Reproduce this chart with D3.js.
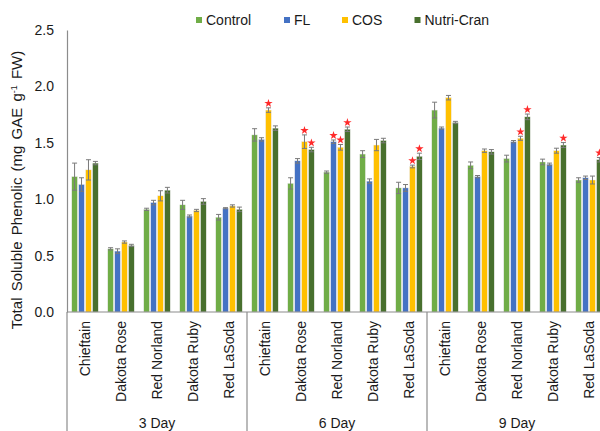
<!DOCTYPE html>
<html>
<head>
<meta charset="utf-8">
<script src="https://cdn.jsdelivr.net/npm/d3@7"></script>
<style>
  html, body { margin: 0; padding: 0; background: #fff; overflow: hidden; }
  svg { display: block; font-family: Arial, "Liberation Sans", sans-serif; }
</style>
</head>
<body>
<svg id="chart" width="600" height="431"></svg>
<script>
// Storage days and cultivars (two-level category axis)
const days = ["3 Day", "6 Day", "9 Day"];
const cultivars = ["Chieftain", "Dakota Rose", "Red Norland", "Dakota Ruby", "Red LaSoda"];
const seriesNames = ["Control", "FL", "COS", "Nutri-Cran"];

// Mean total soluble phenolic, ordered day by day, cultivar by cultivar
const controlValues = [1.20, 0.56, 0.91, 0.95, 0.84, 1.57, 1.14, 1.24, 1.40, 1.10, 1.79, 1.30, 1.36, 1.33, 1.17];
const flValues      = [1.13, 0.54, 0.97, 0.85, 0.92, 1.53, 1.34, 1.51, 1.16, 1.10, 1.63, 1.20, 1.51, 1.31, 1.19];
const cosValues     = [1.26, 0.62, 1.03, 0.90, 0.94, 1.79, 1.51, 1.46, 1.48, 1.29, 1.90, 1.43, 1.54, 1.43, 1.17];
const nutriValues   = [1.32, 0.59, 1.08, 0.98, 0.91, 1.63, 1.44, 1.62, 1.52, 1.38, 1.68, 1.42, 1.73, 1.48, 1.35];

// Standard errors
const controlErr = [0.12, 0.01, 0.01, 0.04, 0.025, 0.055, 0.05, 0.01, 0.03, 0.05, 0.07, 0.03, 0.03, 0.025, 0.02];
const flErr      = [0.06, 0.02, 0.02, 0.01, 0.005, 0.015, 0.02, 0.015, 0.02, 0.03, 0.01, 0.01, 0.01, 0.01, 0.015];
const cosErr     = [0.09, 0.01, 0.045, 0.01, 0.01, 0.02, 0.06, 0.025, 0.05, 0.012, 0.02, 0.015, 0.018, 0.022, 0.035];
const nutriErr   = [0.015, 0.01, 0.025, 0.025, 0.02, 0.02, 0.02, 0.02, 0.02, 0.028, 0.01, 0.02, 0.025, 0.022, 0.02];

// Positions (in the day/cultivar order) marked as significant vs. control
const controlSig = [];
const flSig      = [7];
const cosSig     = [5, 6, 7, 9, 12];
const nutriSig   = [6, 7, 9, 12, 13, 14];

const yTicks = [0, 0.5, 1.0, 1.5, 2.0, 2.5];
const colors = ["#70AD47", "#4472C4", "#FFC000", "#48702E"];

const seriesData = [
  { name: seriesNames[0], values: controlValues, err: controlErr, sig: controlSig },
  { name: seriesNames[1], values: flValues,      err: flErr,      sig: flSig },
  { name: seriesNames[2], values: cosValues,     err: cosErr,     sig: cosSig },
  { name: seriesNames[3], values: nutriValues,   err: nutriErr,   sig: nutriSig }
];

const keys = [];
days.forEach(d => cultivars.forEach(c => keys.push(d + "|" + c)));

const svg = d3.select("#chart");
const plotLeft = 67, plotBottom = 312, plotTop = 30;
const textColor = "#1a1a1a";
const axisColor = "#8c8c8c";

const y = d3.scaleLinear().domain([0, 2.5]).range([plotBottom, plotTop]);
const x0 = d3.scaleBand().domain(keys).range([plotLeft, plotLeft + 540])
  .paddingInner(0.267).paddingOuter(0.1335);
const x1 = d3.scaleBand().domain(seriesNames).range([0, x0.bandwidth()]).paddingInner(0.2);

// Y axis
const yAxis = d3.axisLeft(y).tickValues(yTicks).tickFormat(d3.format(".1f")).tickSize(0).tickPadding(13);
const gy = svg.append("g").attr("transform", `translate(${plotLeft},0)`).call(yAxis);
gy.select(".domain").attr("stroke", axisColor).attr("stroke-width", 1.2);
gy.selectAll("text").attr("font-size", 14).attr("fill", textColor).attr("font-family", "Arial, 'Liberation Sans', sans-serif");

// Y title
const yt = svg.append("text")
  .attr("transform", `translate(22,${(plotTop + plotBottom) / 2 + 19}) rotate(-90)`)
  .attr("text-anchor", "middle").attr("font-size", 15).attr("fill", textColor)
  .attr("word-spacing", 2);
yt.append("tspan").text("Total Soluble Phenolic (mg GAE g");
yt.append("tspan").attr("font-size", 9).attr("dy", -5).text("-1");
yt.append("tspan").attr("dy", 5).text(" FW)");

// Bars, error bars and significance stars, one layer per treatment
seriesData.forEach((s, si) => {
  const g = svg.append("g");
  const rows = keys.map((k, i) => ({ k, v: s.values[i], e: s.err[i], i }));
  g.selectAll("rect").data(rows).join("rect")
    .attr("x", d => x0(d.k) + x1(s.name))
    .attr("width", x1.bandwidth())
    .attr("y", d => y(d.v))
    .attr("height", d => y(0) - y(d.v))
    .attr("fill", colors[si])
    .attr("stroke", "#e6e6e6").attr("stroke-width", 0.4);

  const eb = g.append("g").attr("stroke", "#7a7a7a").attr("stroke-width", 1);
  rows.forEach(d => {
    const cx = x0(d.k) + x1(s.name) + x1.bandwidth() / 2;
    eb.append("line").attr("x1", cx).attr("x2", cx).attr("y1", y(d.v + d.e)).attr("y2", y(d.v - d.e));
    eb.append("line").attr("x1", cx - 2.5).attr("x2", cx + 2.5).attr("y1", y(d.v + d.e)).attr("y2", y(d.v + d.e));
    eb.append("line").attr("x1", cx - 2.5).attr("x2", cx + 2.5).attr("y1", y(d.v - d.e)).attr("y2", y(d.v - d.e));
  });

  g.selectAll("path.star").data(s.sig).join("path")
    .attr("class", "star")
    .attr("d", d3.symbol(d3.symbolStar, 22))
    .attr("transform", i => {
      const cx = x0(keys[i]) + x1(s.name) + x1.bandwidth() / 2;
      return `translate(${cx},${y(s.values[i] + s.err[i]) - 4.5})`;
    })
    .attr("fill", "#ff2a2a");
});

// X axis line
svg.append("line").attr("x1", plotLeft).attr("x2", 600).attr("y1", plotBottom).attr("y2", plotBottom)
  .attr("stroke", axisColor).attr("stroke-width", 1.2);

// Cultivar labels
svg.append("g").selectAll("text").data(keys).join("text")
  .attr("transform", k => `translate(${x0(k) + x0.bandwidth() / 2 + 5},321) rotate(-90)`)
  .attr("text-anchor", "end").attr("font-size", 14).attr("fill", textColor)
  .text(k => k.split("|")[1]);

// Day group separators and labels
const step = x0.step();
days.forEach((d, di) => {
  const gx0 = plotLeft + di * step * cultivars.length;
  svg.append("line").attr("x1", gx0).attr("x2", gx0).attr("y1", plotBottom).attr("y2", 431)
    .attr("stroke", axisColor).attr("stroke-width", 1.2);
  svg.append("text").attr("x", gx0 + step * cultivars.length / 2).attr("y", 428)
    .attr("text-anchor", "middle").attr("font-size", 14).attr("fill", textColor).text(d);
});

// Legend
const legendX = [196, 284, 342, 414.5];
const legend = svg.append("g");
seriesNames.forEach((n, i) => {
  legend.append("rect").attr("x", legendX[i]).attr("y", 17).attr("width", 6).attr("height", 6).attr("fill", colors[i]);
  legend.append("text").attr("x", legendX[i] + 10).attr("y", 25).attr("font-size", 14).attr("fill", textColor).text(n);
});
</script>
</body>
</html>
